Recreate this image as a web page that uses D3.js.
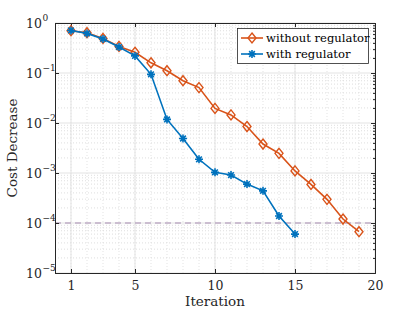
<!DOCTYPE html>
<html>
<head>
<meta charset="utf-8">
<script src="https://cdn.jsdelivr.net/npm/d3@7"></script>
<style>
body { margin: 0; background: #fff; }
text { font-family: "DejaVu Serif", serif !important; }
</style>
</head>
<body>
<script>
// donnees
var iterations = [1,2,3,4,5,6,7,8,9,10,11,12,13,14,15,16,17,18,19];
var withoutReg = [0.70,0.64,0.49,0.34,0.26,0.16,0.111,0.070,0.051,0.0196,0.0145,0.0085,0.0038,0.00247,0.0011,0.00059,0.000297,0.000120,0.000067];
var withReg = [0.71,0.62,0.48,0.33,0.22,0.094,0.0118,0.0049,0.00188,0.00103,0.00091,0.0006,0.00044,0.000138,0.000060];
var xTicks = [1,5,10,15,20];
var yExps = [0,-1,-2,-3,-4,-5];
var threshold = 1e-4;
var seriesNames = ["without regulator", "with regulator"];

var cfg = {
	w: 415, h: 312,
	left: 55, right: 375, top: 23, bottom: 273,
	orange: "#D95319", blue: "#0072BD", axis: "#262626"
};

var svg = d3.select("body").append("svg")
	.attr("width", cfg.w).attr("height", cfg.h);

var x = d3.scaleLinear().domain([0, 20]).range([cfg.left, cfg.right]);
var y = d3.scaleLog().domain([1e-5, 1]).range([cfg.bottom, cfg.top]);

// grille mineure
var minorY = [];
for (var e = -5; e < 0; e++) for (var m = 2; m <= 9; m++) minorY.push(m * Math.pow(10, e));
svg.append("g").selectAll("line").data(minorY).enter().append("line")
	.attr("x1", cfg.left).attr("x2", cfg.right)
	.attr("y1", function(d) { return y(d); }).attr("y2", function(d) { return y(d); })
	.attr("stroke", "#d6d6d6").attr("stroke-width", 0.8).attr("stroke-dasharray", "1,2");
svg.append("g").selectAll("line").data(d3.range(1, 20)).enter().append("line")
	.attr("x1", function(d) { return x(d); }).attr("x2", function(d) { return x(d); })
	.attr("y1", cfg.top).attr("y2", cfg.bottom)
	.attr("stroke", "#dcdcdc").attr("stroke-width", 0.8).attr("stroke-dasharray", "1,2");

// grille majeure
svg.append("g").selectAll("line").data(yExps).enter().append("line")
	.attr("x1", cfg.left).attr("x2", cfg.right)
	.attr("y1", function(d) { return y(Math.pow(10, d)); }).attr("y2", function(d) { return y(Math.pow(10, d)); })
	.attr("stroke", "#e3e3e3").attr("stroke-width", 1);
svg.append("g").selectAll("line").data(xTicks).enter().append("line")
	.attr("x1", function(d) { return x(d); }).attr("x2", function(d) { return x(d); })
	.attr("y1", cfg.top).attr("y2", cfg.bottom)
	.attr("stroke", "#e3e3e3").attr("stroke-width", 1);

// seuil
svg.append("line")
	.attr("x1", cfg.left).attr("x2", cfg.right)
	.attr("y1", y(threshold)).attr("y2", y(threshold))
	.attr("stroke", "#a68bb0").attr("stroke-width", 1).attr("stroke-dasharray", "6,4");

// axes
var xAxis = d3.axisBottom(x).tickValues(xTicks).tickSize(-4).tickPadding(8);
var gx = svg.append("g").attr("transform", "translate(0," + cfg.bottom + ")").call(xAxis);
gx.selectAll("text").attr("font-size", 12.5).attr("fill", cfg.axis);
gx.selectAll("line,path").attr("stroke", cfg.axis);
var gxt = svg.append("g").attr("transform", "translate(0," + cfg.top + ")")
	.call(d3.axisTop(x).tickValues(xTicks).tickSize(-4).tickFormat(""));
gxt.selectAll("line,path").attr("stroke", cfg.axis);

var yAxis = d3.axisLeft(y).tickValues(yExps.map(function(d) { return Math.pow(10, d); })).tickSize(-4).tickFormat("");
var gy = svg.append("g").attr("transform", "translate(" + cfg.left + ",0)").call(yAxis);
gy.selectAll("line,path").attr("stroke", cfg.axis);
var gyr = svg.append("g").attr("transform", "translate(" + cfg.right + ",0)")
	.call(d3.axisRight(y).tickValues(minorY.concat(yExps.map(function(d) { return Math.pow(10, d); }))).tickSize(-2).tickFormat(""));
gyr.selectAll("line,path").attr("stroke", cfg.axis);
gyr.selectAll(".tick line").filter(function(d) { return yExps.indexOf(Math.round(Math.log10(d) * 1000) / 1000) >= 0; }).attr("x2", -4);

// etiquettes 10^k
var gl = svg.append("g");
yExps.forEach(function(d) {
	gl.append("text").attr("x", 42).attr("y", y(Math.pow(10, d)) + 5)
		.attr("text-anchor", "end").attr("font-size", 12.5).attr("fill", cfg.axis).text("10");
	gl.append("text").attr("x", 42.5).attr("y", y(Math.pow(10, d)) - 2)
		.attr("font-size", 9).attr("fill", cfg.axis)
		.text(d === 0 ? "0" : "\u2212" + (-d));
});

svg.append("text").attr("transform", "translate(17," + ((cfg.top + cfg.bottom) / 2) + ") rotate(-90)")
	.attr("text-anchor", "middle").attr("font-size", 13.5).attr("fill", cfg.axis).text("Cost Decrease");
svg.append("text").attr("x", (cfg.left + cfg.right) / 2).attr("y", 306)
	.attr("text-anchor", "middle").attr("font-size", 13.5).attr("fill", cfg.axis).text("Iteration");

// courbes
var line = d3.line().x(function(d) { return x(d[0]); }).y(function(d) { return y(d[1]); });
var dataA = withoutReg.map(function(v, i) { return [iterations[i], v]; });
var dataB = withReg.map(function(v, i) { return [iterations[i], v]; });

function diamond(g, cx, cy) {
	g.append("path").attr("d", "M" + cx + "," + (cy - 5) + "L" + (cx + 4) + "," + cy + "L" + cx + "," + (cy + 5) + "L" + (cx - 4) + "," + cy + "Z")
		.attr("fill", "none").attr("stroke", cfg.orange).attr("stroke-width", 1.4);
}
function star(g, cx, cy) {
	var r = 4, p = "";
	[0, 45, 90, 135].forEach(function(a) {
		var t = a * Math.PI / 180;
		p += "M" + (cx - r * Math.cos(t)) + "," + (cy - r * Math.sin(t)) + "L" + (cx + r * Math.cos(t)) + "," + (cy + r * Math.sin(t));
	});
	g.append("path").attr("d", p).attr("stroke", cfg.blue).attr("stroke-width", 1.6);
	g.append("circle").attr("cx", cx).attr("cy", cy).attr("r", 2).attr("fill", cfg.blue);
}

svg.append("path").datum(dataA).attr("d", line).attr("fill", "none").attr("stroke", cfg.orange).attr("stroke-width", 1.6);
var gA = svg.append("g");
dataA.forEach(function(d) { diamond(gA, x(d[0]), y(d[1])); });
svg.append("path").datum(dataB).attr("d", line).attr("fill", "none").attr("stroke", cfg.blue).attr("stroke-width", 1.6);
var gB = svg.append("g");
dataB.forEach(function(d) { star(gB, x(d[0]), y(d[1])); });

// legende
var lg = svg.append("g");
lg.append("rect").attr("x", 237.5).attr("y", 28.5).attr("width", 131).attr("height", 35)
	.attr("fill", "#fff").attr("stroke", cfg.axis).attr("stroke-width", 0.8);
[0, 1].forEach(function(i) {
	var ly = 38 + i * 16, col = i ? cfg.blue : cfg.orange;
	lg.append("line").attr("x1", 241).attr("x2", 263).attr("y1", ly).attr("y2", ly).attr("stroke", col).attr("stroke-width", 1.6);
	if (i) star(lg, 252, ly); else diamond(lg, 252, ly);
	lg.append("text").attr("x", 266).attr("y", ly + 4).attr("font-size", 11.6).attr("fill", "#000").text(seriesNames[i]);
});
</script>
</body>
</html>
